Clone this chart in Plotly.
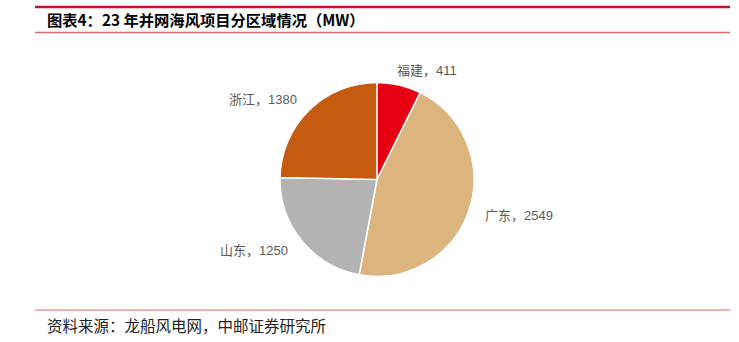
import math
import plotly.graph_objects as go

# 2023 grid-connected offshore wind capacity by province (MW)
regions = ["福建", "广东", "山东", "浙江"]
capacity_mw = [411, 2549, 1250, 1380]
slice_colors = ["#E60012", "#DBB47E", "#B3B3B3", "#C55A11"]

title_text = "图表4：23 年并网海风项目分区域情况（MW）"
source_text = "资料来源：龙船风电网，中邮证券研究所"

W, H = 739, 342
CX, CY, R = 377, 179.5, 97   # pie centre and radius, px
LABEL_R = 112                # label anchor distance from centre, px

LABEL_FONT = "Liberation Sans, Noto Sans CJK SC"


def px_x(x):
    return x / W


def px_y(y):
    return 1 - y / H


fig = go.Figure()
fig.add_trace(go.Pie(
    labels=regions,
    values=capacity_mw,
    sort=False,
    direction="clockwise",
    rotation=0,
    marker=dict(colors=slice_colors, line=dict(color="white", width=1.5)),
    textinfo="none",
    hoverinfo="label+value",
    showlegend=False,
    domain=dict(x=[px_x(CX - R), px_x(CX + R)],
                y=[px_y(CY + R), px_y(CY - R)]),
))

# Category labels placed just outside each slice, at its mid angle
total = sum(capacity_mw)
cum = 0
annotations = []
for name, v in zip(regions, capacity_mw):
    mid = (cum + v / 2) / total * 2 * math.pi
    cum += v
    s, c = math.sin(mid), math.cos(mid)
    ax = CX + LABEL_R * s
    ay = CY - LABEL_R * c
    if abs(s) < 0.5:
        # labels near the top/bottom sit a little more centred over the slice
        ax -= 8 * (1 if s >= 0 else -1)
    annotations.append(dict(
        x=px_x(ax), y=px_y(ay), xref="paper", yref="paper",
        text=f"{name}，{v}", showarrow=False,
        xanchor="left" if s >= 0 else "right", yanchor="middle",
        font=dict(family=LABEL_FONT, size=13, color="#595959"),
    ))

annotations.append(dict(
    x=px_x(45), y=px_y(19.5), xref="paper", yref="paper",
    text=f"<b>{title_text}</b>", showarrow=False,
    xanchor="left", yanchor="middle",
    font=dict(family="Noto Sans CJK SC", size=15.3, color="#000000"),
))
annotations.append(dict(
    x=px_x(45), y=px_y(325), xref="paper", yref="paper",
    text=source_text, showarrow=False,
    xanchor="left", yanchor="middle",
    font=dict(family="Noto Sans CJK SC", size=15.5, color="#222222"),
))

shapes = [
    dict(type="line", xref="paper", yref="paper",
         x0=px_x(35), x1=px_x(730), y0=px_y(7), y1=px_y(7),
         line=dict(color="#C8102E", width=2.5)),
    dict(type="line", xref="paper", yref="paper",
         x0=px_x(35), x1=px_x(730), y0=px_y(32.5), y1=px_y(32.5),
         line=dict(color="#E06A6A", width=1.5)),
    dict(type="line", xref="paper", yref="paper",
         x0=px_x(35), x1=px_x(730), y0=px_y(310), y1=px_y(310),
         line=dict(color="#E89A9A", width=1.5)),
]

fig.update_layout(
    width=W, height=H,
    margin=dict(l=0, r=0, t=0, b=0),
    paper_bgcolor="white",
    plot_bgcolor="white",
    annotations=annotations,
    shapes=shapes,
)

fig.write_html("out.html")
